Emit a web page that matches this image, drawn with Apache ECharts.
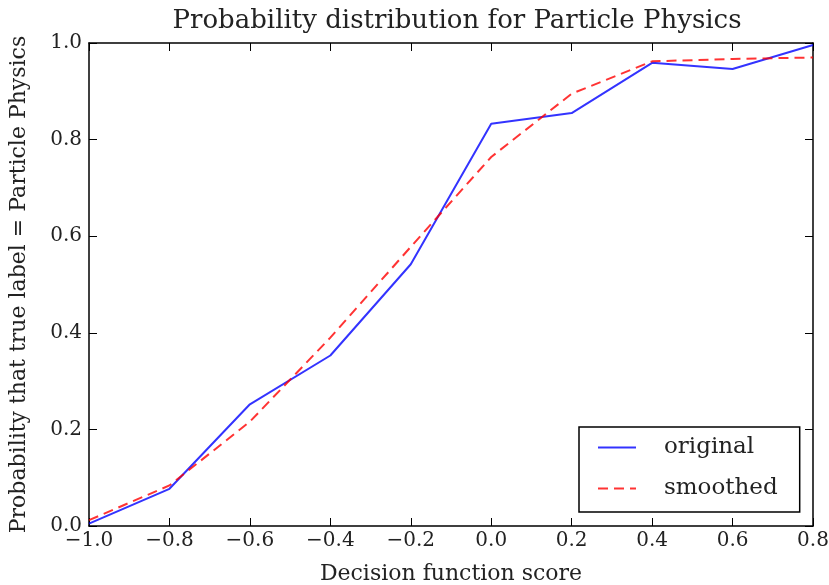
<!DOCTYPE html>
<html>
<head>
<meta charset="utf-8">
<script src="https://cdn.jsdelivr.net/npm/echarts@6/dist/echarts.min.js"></script>
<style>html,body{margin:0;padding:0;background:#fff;}#c{width:829px;height:585px;}</style>
</head>
<body>
<div id="c"></div>
<script>
const xValues = [-1.0, -0.8, -0.6, -0.4, -0.2, 0.0, 0.2, 0.4, 0.6, 0.8];
const original = [0.005, 0.077, 0.252, 0.353, 0.542, 0.833, 0.855, 0.959, 0.946, 0.996];
const smoothed = [0.012, 0.084, 0.216, 0.390, 0.578, 0.764, 0.895, 0.962, 0.967, 0.970];
const titleText = 'Probability distribution for Particle Physics';
const xLabel = 'Decision function score';
const yLabel = 'Probability that true label = Particle Physics';

const FONT = 'DejaVu Serif';
const fmt = v => { const r = Math.round(v * 10) / 10; return (r < 0 ? '\u2212' : '') + Math.abs(r).toFixed(1); };

const chart = echarts.init(document.getElementById('c'));
const axisCommon = {
  type: 'value',
  interval: 0.2,
  axisLine: { show: true, onZero: false, lineStyle: { color: '#000', width: 1.5 } },
  axisTick: { show: true, inside: true, length: 8, lineStyle: { color: '#000', width: 1 } },
  splitLine: { show: false }
};
chart.setOption({
  animation: false,
  backgroundColor: '#fff',
  title: {
    text: titleText, left: 452, top: 3, textAlign: 'center',
    textStyle: { fontFamily: FONT, fontSize: 26, fontWeight: 'normal', color: '#222' }
  },
  grid: { left: 89, right: 16, top: 43, bottom: 59, containLabel: false, outerBoundsMode: 'none' },
  legend: {
    orient: 'vertical', left: 579, top: 427,
    padding: [9, 22, 12, 18], itemGap: 18,
    itemWidth: 38, itemHeight: 14,
    itemStyle: { opacity: 0 },
    borderColor: '#000', borderWidth: 1.5, borderRadius: 0,
    backgroundColor: '#fff',
    textStyle: { fontFamily: FONT, fontSize: 23, color: '#222', padding: [0, 0, 0, 23] },
    data: ['original', 'smoothed']
  },
  xAxis: [
    Object.assign({}, axisCommon, {
      min: -1.0, max: 0.8, position: 'bottom',
      name: xLabel, nameLocation: 'middle', nameGap: 37,
      nameTextStyle: { fontFamily: FONT, fontSize: 22, color: '#222' },
      axisLabel: { formatter: fmt, fontFamily: FONT, fontSize: 20, color: '#222', margin: 5 }
    }),
    Object.assign({}, axisCommon, {
      min: -1.0, max: 0.8, position: 'top', axisLabel: { show: false }
    })
  ],
  yAxis: [
    Object.assign({}, axisCommon, {
      min: 0, max: 1.0, position: 'left',
      name: yLabel, nameLocation: 'middle', nameGap: 59, nameRotate: 90,
      nameTextStyle: { fontFamily: FONT, fontSize: 22, color: '#222' },
      axisLabel: { formatter: fmt, fontFamily: FONT, fontSize: 20, color: '#222', margin: 7 }
    }),
    Object.assign({}, axisCommon, {
      min: 0, max: 1.0, position: 'right', axisLabel: { show: false }
    })
  ],
  series: [
    {
      name: 'original', type: 'line', symbol: 'none',
      data: xValues.map((x, i) => [x, original[i]]),
      lineStyle: { color: 'rgba(0,0,255,0.8)', width: 2 },
      itemStyle: { color: 'rgba(0,0,255,0.8)' }
    },
    {
      name: 'smoothed', type: 'line', symbol: 'none',
      data: xValues.map((x, i) => [x, smoothed[i]]),
      lineStyle: { color: 'rgba(255,0,0,0.8)', width: 2, type: [10, 6] },
      itemStyle: { color: 'rgba(255,0,0,0.8)' }
    }
  ]
});
</script>
</body>
</html>
